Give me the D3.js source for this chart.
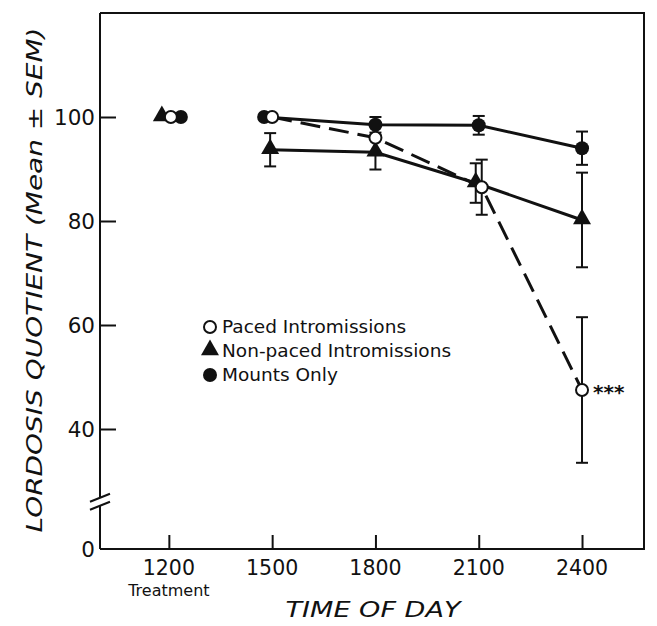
<!DOCTYPE html>
<html>
<head>
<meta charset="utf-8">
<script src="https://cdn.jsdelivr.net/npm/d3@7"></script>
<style>
  body { margin: 0; background: #fff; }
  svg text { font-family: "DejaVu Sans", "Liberation Sans", sans-serif; fill: #111; }
</style>
</head>
<body>
<div id="chart"></div>
<script>
// data
var times = [1200, 1500, 1800, 2100, 2400];
var timeLabels = ["1200", "1500", "1800", "2100", "2400"];
var yTicks = [40, 60, 80, 100];

var pacedMean = [100, 100, 96, 86.5, 47.5];
var pacedSem = [0, 0, 0, 5.3, 14];
var nonpacedMean = [100, 93.7, 93.2, 87.3, 80.2];
var nonpacedSem = [0, 3.2, 3.3, 3.8, 9.1];
var mountsMean = [100, 100, 98.5, 98.4, 94];
var mountsSem = [0, 0, 1.5, 1.8, 3.2];

var seriesNames = ["Paced Intromissions", "Non-paced Intromissions", "Mounts Only"];

var W = 657, H = 626;
var svg = d3.select("#chart").append("svg")
    .attr("width", W).attr("height", H);

// frame: left 100, right 644, top 13, bottom 549
var x = d3.scaleLinear().domain([1000, 2580]).range([100, 644]);
// broken axis: 0 sits just under the break
var y = d3.scaleLinear().domain([0, 20, 120]).range([549, 533, 13]);

var ink = "#111";

// frame (left side drawn separately for the break)
svg.append("path")
    .attr("d", "M" + x(1000) + "," + y(120) + "H" + x(2580) + "V" + y(0) + "H" + x(1000))
    .attr("fill", "none").attr("stroke", ink).attr("stroke-width", 2);
var brk = y(26);
svg.append("line").attr("x1", x(1000)).attr("x2", x(1000))
    .attr("y1", y(120)).attr("y2", brk - 4)
    .attr("stroke", ink).attr("stroke-width", 2);
svg.append("line").attr("x1", x(1000)).attr("x2", x(1000))
    .attr("y1", brk + 4).attr("y2", y(0))
    .attr("stroke", ink).attr("stroke-width", 2);
[-4, 4].forEach(function(d){
  svg.append("line")
    .attr("x1", x(1000) - 10).attr("y1", brk + d + 4)
    .attr("x2", x(1000) + 10).attr("y2", brk + d - 4)
    .attr("stroke", ink).attr("stroke-width", 2);
});

// y ticks (inside)
var yAxis = d3.axisRight(y).tickValues(yTicks).tickSize(16).tickFormat("");
var gy = svg.append("g").attr("transform", "translate(" + x(1000) + ",0)").call(yAxis);
gy.select(".domain").remove();
gy.selectAll(".tick line").attr("stroke", ink).attr("stroke-width", 2);
svg.selectAll(".ylab").data(yTicks.concat([0])).enter().append("text")
    .attr("x", 95).attr("y", function(d){ return y(d) + 8; })
    .attr("text-anchor", "end").attr("font-size", 21.5)
    .text(function(d){ return d; });

// x ticks (inside)
var xAxis = d3.axisTop(x).tickValues(times).tickSize(14).tickFormat("");
var gx = svg.append("g").attr("transform", "translate(0," + y(0) + ")").call(xAxis);
gx.select(".domain").remove();
gx.selectAll(".tick line").attr("stroke", ink).attr("stroke-width", 2);
svg.selectAll(".xlab").data(times).enter().append("text")
    .attr("x", function(d){ return x(d); }).attr("y", 575)
    .attr("text-anchor", "middle").attr("font-size", 20.5)
    .text(function(d, i){ return timeLabels[i]; });
svg.append("text").attr("x", x(1200)).attr("y", 596)
    .attr("text-anchor", "middle").attr("font-size", 16)
    .text("Treatment");

// axis titles
svg.append("text").attr("x", 373).attr("y", 617)
    .attr("text-anchor", "middle").attr("font-size", 22)
    .attr("font-style", "italic")
    .attr("textLength", 175).attr("lengthAdjust", "spacingAndGlyphs")
    .text("TIME OF DAY");
svg.append("text")
    .attr("transform", "translate(42," + 280 + ") rotate(-90)")
    .attr("text-anchor", "middle").attr("font-size", 22)
    .attr("font-style", "italic")
    .attr("textLength", 505).attr("lengthAdjust", "spacingAndGlyphs")
    .text("LORDOSIS QUOTIENT (Mean \u00b1 SEM)");

// small horizontal dodges so overlapping markers stay visible
var dodge = {
  paced: [2, 0, 0, 3, 0],
  nonpaced: [-7, -2, 0, -3, 0],
  mounts: [12, -8, 0, 0, 0]
};

function pts(mean, sem, key){
  return times.map(function(t, i){
    return { cx: x(t) + dodge[key][i], m: mean[i], s: sem[i] };
  });
}
var paced = pts(pacedMean, pacedSem, "paced");
var nonpaced = pts(nonpacedMean, nonpacedSem, "nonpaced");
var mounts = pts(mountsMean, mountsSem, "mounts");

var line = d3.line().x(function(d){ return d.cx; }).y(function(d){ return y(d.m); });

// lines: no segment between the treatment point and 1500
svg.append("path").datum(mounts.slice(1)).attr("d", line)
    .attr("fill", "none").attr("stroke", ink).attr("stroke-width", 3);
svg.append("path").datum(nonpaced.slice(1)).attr("d", line)
    .attr("fill", "none").attr("stroke", ink).attr("stroke-width", 3);
svg.append("path").datum(paced.slice(1)).attr("d", line)
    .attr("fill", "none").attr("stroke", ink).attr("stroke-width", 3)
    .attr("stroke-dasharray", "20,9");

// error bars
function errBars(data){
  var g = svg.append("g");
  data.filter(function(d){ return d.s > 0; }).forEach(function(d){
    g.append("line").attr("x1", d.cx).attr("x2", d.cx)
      .attr("y1", y(d.m + d.s)).attr("y2", y(d.m - d.s))
      .attr("stroke", ink).attr("stroke-width", 2);
    [d.m + d.s, d.m - d.s].forEach(function(v){
      g.append("line").attr("x1", d.cx - 6).attr("x2", d.cx + 6)
        .attr("y1", y(v)).attr("y2", y(v))
        .attr("stroke", ink).attr("stroke-width", 2);
    });
  });
}
errBars(mounts);
errBars(nonpaced);
errBars(paced);

// markers
var tri = d3.symbol().type(d3.symbolTriangle).size(140);
function drawTri(g, cx, cy){
  g.append("path").attr("d", tri).attr("transform", "translate(" + cx + "," + (cy - 1) + ")")
    .attr("fill", ink);
}
function drawDot(g, cx, cy){
  g.append("circle").attr("cx", cx).attr("cy", cy).attr("r", 7).attr("fill", ink);
}
function drawOpen(g, cx, cy){
  g.append("circle").attr("cx", cx).attr("cy", cy).attr("r", 6)
    .attr("fill", "#fff").attr("stroke", ink).attr("stroke-width", 2);
}
var gm = svg.append("g");
mounts.forEach(function(d){ drawDot(gm, d.cx, y(d.m)); });
nonpaced.forEach(function(d){ drawTri(gm, d.cx, y(d.m)); });
paced.forEach(function(d){ drawOpen(gm, d.cx, y(d.m)); });

// significance mark
svg.append("text").attr("x", paced[4].cx + 11).attr("y", y(paced[4].m) + 9)
    .attr("font-size", 20).attr("font-weight", "bold").text("***");

// legend
var lg = svg.append("g");
var markers = [drawOpen, drawTri, drawDot];
seriesNames.forEach(function(name, i){
  var ly = 327 + i * 24;
  markers[i](lg, 210, ly);
  lg.append("text").attr("x", 222).attr("y", ly + 6)
    .attr("font-size", 18.5).text(name);
});
</script>
</body>
</html>
